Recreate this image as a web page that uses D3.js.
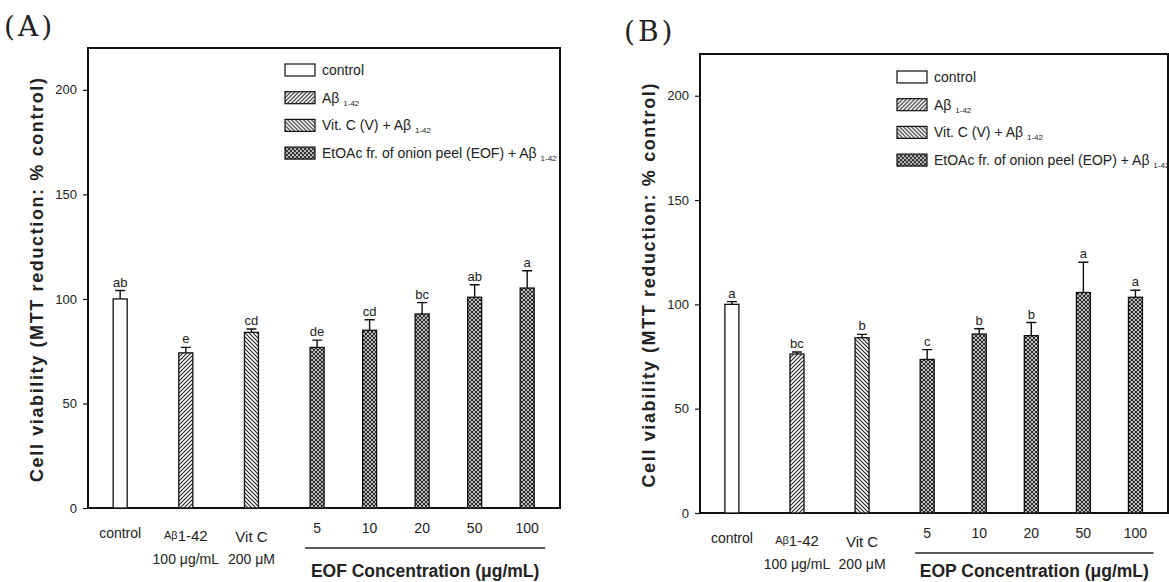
<!DOCTYPE html>
<html>
<head>
<meta charset="utf-8">
<script src="https://cdn.jsdelivr.net/npm/d3@7"></script>
<style>
  html, body { margin: 0; padding: 0; background: #fff; }
  svg text { fill: #222; }
  .narrow { font-family: "Liberation Sans Narrow", "Arial Narrow", "Liberation Sans", Arial, sans-serif; }
  .bold { font-family: "Liberation Sans", Arial, sans-serif; font-weight: bold; }
  .panel-tag { font-family: "DejaVu Serif", "Liberation Serif", serif; }
</style>
</head>
<body>
<svg id="chart" width="1169" height="582"></svg>
<script>
// ===== 数据 =====
const categories = ['control', 'Aβ1-42', 'Vit C', '5', '10', '20', '50', '100'];
const groups = ['control', 'abeta', 'vitc', 'extract', 'extract', 'extract', 'extract', 'extract'];
const yTicks = [0, 50, 100, 150, 200];

// (A) EOF
const valuesA = [100, 74.2, 84, 76.8, 85, 92.8, 100.8, 105.2];
const errorsA = [4, 2.6, 1.6, 3.5, 5, 5.4, 6, 8.3];
const lettersA = ['ab', 'e', 'cd', 'de', 'cd', 'bc', 'ab', 'a'];

// (B) EOP
const valuesB = [100, 76.2, 84, 73.6, 85.8, 85, 105.7, 103.4];
const errorsB = [1.3, 1.0, 1.6, 4.7, 2.5, 6.3, 14.5, 3.4];
const lettersB = ['a', 'bc', 'b', 'c', 'b', 'b', 'a', 'a'];

const svg = d3.select('#chart');

// ===== 填充图案 =====
const defs = svg.append('defs');
function hatch(id, d, sw) {
  const p = defs.append('pattern').attr('id', id)
    .attr('patternUnits', 'userSpaceOnUse').attr('width', 4).attr('height', 4);
  p.append('rect').attr('width', 4).attr('height', 4).attr('fill', '#fff');
  p.append('path').attr('d', d).attr('stroke', '#222').attr('stroke-width', sw);
}
hatch('pat-abeta', 'M-1,1 l2,-2 M0,4 l4,-4 M3,5 l2,-2', 1.1);
hatch('pat-vitc', 'M-1,3 l2,2 M0,0 l4,4 M3,-1 l2,2', 1.1);
hatch('pat-extract', 'M-1,1 l2,-2 M0,4 l4,-4 M3,5 l2,-2 M-1,3 l2,2 M0,0 l4,4 M3,-1 l2,2', 1.2);

const fillOf = {
  control: '#fff',
  abeta: 'url(#pat-abeta)',
  vitc: 'url(#pat-vitc)',
  extract: 'url(#pat-extract)'
};

// 浓度组的间距比前三组更紧
const slots = categories.map((c, i) => i < 3 ? i : 3 + (i - 3) * 0.8);

function drawPanel(cfg) {
  const { left, top, right, bottom, values, errors, letters, tag, abbr } = cfg;
  const g = svg.append('g');

  const x = d3.scaleLinear().domain([-0.49, slots[slots.length - 1] + 0.5]).range([left, right]);
  const y = d3.scaleLinear().domain([0, 220]).range([bottom, top]);
  const barW = 14;

  // 边框
  g.append('rect')
    .attr('x', left).attr('y', top)
    .attr('width', right - left).attr('height', bottom - top)
    .attr('fill', 'none').attr('stroke', '#111').attr('stroke-width', 2);

  // Y 轴
  const yAxis = g.append('g')
    .attr('transform', `translate(${left},0)`)
    .call(d3.axisLeft(y).tickValues(yTicks).tickSize(5).tickPadding(6));
  yAxis.select('.domain').remove();
  yAxis.selectAll('line').attr('stroke', '#111').attr('stroke-width', 1.2);
  yAxis.selectAll('text').attr('font-size', 13).attr('fill', '#222')
    .attr('font-family', '"Liberation Sans Narrow", "Arial Narrow", "Liberation Sans", sans-serif');

  // 柱子
  const data = categories.map((c, i) => ({ c, i, v: values[i], e: errors[i], l: letters[i], grp: groups[i] }));
  g.selectAll('rect.bar')
    .data(data)
    .join('rect')
    .attr('class', 'bar')
    .attr('x', d => x(slots[d.i]) - barW / 2)
    .attr('y', d => y(d.v))
    .attr('width', barW)
    .attr('height', d => y(0) - y(d.v))
    .attr('fill', d => fillOf[d.grp])
    .attr('stroke', '#111')
    .attr('stroke-width', 1.3);

  // 误差线（仅向上）
  g.selectAll('path.err')
    .data(data)
    .join('path')
    .attr('class', 'err')
    .attr('d', d => {
      const cx = x(slots[d.i]);
      return `M${cx},${y(d.v)}V${y(d.v + d.e)}M${cx - 5},${y(d.v + d.e)}H${cx + 5}`;
    })
    .attr('fill', 'none').attr('stroke', '#111').attr('stroke-width', 1.4);

  // 显著性字母
  g.selectAll('text.letter')
    .data(data)
    .join('text')
    .attr('class', 'letter narrow')
    .attr('x', d => x(slots[d.i]))
    .attr('y', d => y(d.v + d.e) - 4)
    .attr('text-anchor', 'middle')
    .attr('font-size', 13)
    .text(d => d.l);

  // X 轴标签
  const xl = g.append('g').attr('class', 'narrow').attr('font-size', 14).attr('text-anchor', 'middle');
  const xTop = bottom + 25;
  xl.append('text').attr('x', x(slots[0])).attr('y', xTop + 5).text(categories[0]);
  const ab = xl.append('text').attr('x', x(slots[1])).attr('y', xTop + 8);
  ab.append('tspan').attr('font-size', 11).attr('dy', -2).text('Aβ');
  ab.append('tspan').attr('font-size', 15).attr('dy', 2).text('1-42');
  xl.append('text').attr('x', x(slots[1])).attr('y', xTop + 31).text('100 μg/mL');
  xl.append('text').attr('x', x(slots[2])).attr('y', xTop + 9).attr('font-size', 15).text(categories[2]);
  xl.append('text').attr('x', x(slots[2])).attr('y', xTop + 31).text('200 μM');
  for (let i = 3; i < categories.length; i++) {
    xl.append('text').attr('x', x(slots[i])).attr('y', xTop).text(categories[i]);
  }

  // 浓度组下划线与标题
  const x0 = x(slots[3]) - 12, x1 = x(slots[slots.length - 1]) + 18;
  g.append('line')
    .attr('x1', x0).attr('x2', x1)
    .attr('y1', bottom + 40).attr('y2', bottom + 40)
    .attr('stroke', '#222').attr('stroke-width', 1.5);
  g.append('text')
    .attr('class', 'bold')
    .attr('x', (x0 + x1) / 2).attr('y', cfg.titleY)
    .attr('text-anchor', 'middle').attr('font-size', 17.5)
    .text(`${abbr} Concentration (μg/mL)`);

  // Y 轴标题
  g.append('text')
    .attr('class', 'bold')
    .attr('transform', `translate(${left - 45},${(top + bottom) / 2 + 2}) rotate(-90)`)
    .attr('text-anchor', 'middle').attr('font-size', 18)
    .attr('textLength', 404).attr('lengthAdjust', 'spacing')
    .text('Cell viability (MTT reduction: % control)');

  // 面板编号
  g.append('text')
    .attr('class', 'panel-tag')
    .attr('x', cfg.tagX).attr('y', cfg.tagY)
    .attr('font-size', 28)
    .attr('letter-spacing', 3)
    .text(tag);

  // 图例
  const legendItems = [
    { grp: 'control', parts: [['control', 14]] },
    { grp: 'abeta', parts: [['Aβ ', 14], ['1-42', 8, 3]] },
    { grp: 'vitc', parts: [['Vit. C (V) + Aβ ', 14], ['1-42', 8, 3]] },
    { grp: 'extract', parts: [[`EtOAc fr. of onion peel (${abbr}) + Aβ `, 14], ['1-42', 8, 3]] }
  ];
  const lg = g.append('g').attr('transform', `translate(${cfg.legX},${cfg.legY})`);
  legendItems.forEach((it, k) => {
    const row = lg.append('g').attr('transform', `translate(0,${k * 27.7})`);
    row.append('rect')
      .attr('x', 0).attr('y', -6).attr('width', 30).attr('height', 12)
      .attr('fill', fillOf[it.grp]).attr('stroke', '#111').attr('stroke-width', 1.2);
    const t = row.append('text').attr('class', 'narrow').attr('x', 37).attr('y', 5);
    it.parts.forEach(p => {
      const s = t.append('tspan').attr('font-size', p[1]).text(p[0]);
      if (p[2]) s.attr('dy', p[2]);
    });
  });
}

drawPanel({
  left: 88, top: 48, right: 560, bottom: 508,
  values: valuesA, errors: errorsA, letters: lettersA,
  tag: '(A)', tagX: 4, tagY: 36, abbr: 'EOF', titleY: 577,
  legX: 285, legY: 70
});

drawPanel({
  left: 700, top: 54, right: 1168, bottom: 513,
  values: valuesB, errors: errorsB, letters: lettersB,
  tag: '(B)', tagX: 624, tagY: 41, abbr: 'EOP', titleY: 577,
  legX: 897, legY: 77
});
</script>
</body>
</html>
